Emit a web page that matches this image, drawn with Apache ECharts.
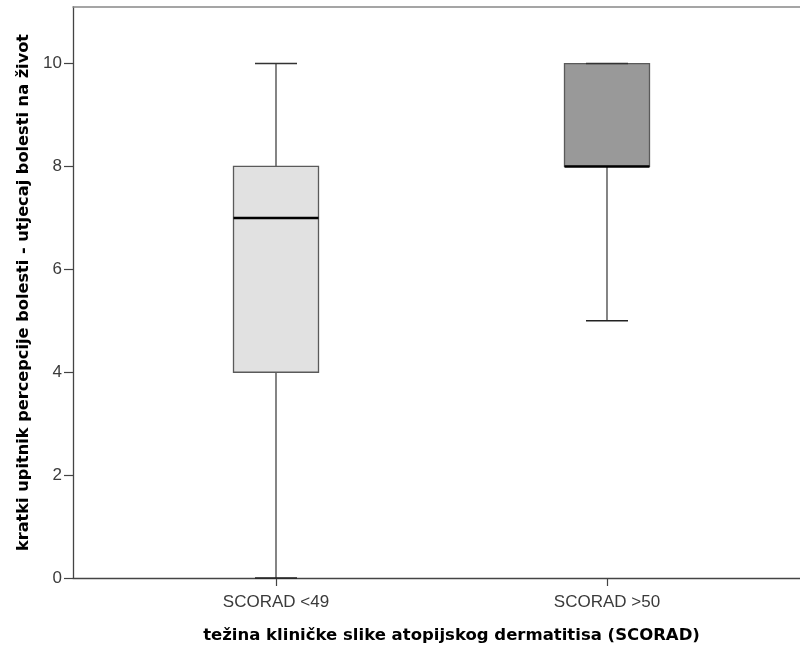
<!DOCTYPE html>
<html>
<head>
<meta charset="utf-8">
<script src="https://cdn.jsdelivr.net/npm/echarts@6/dist/echarts.min.js"></script>
<style>
html,body{margin:0;padding:0;background:#fff;}
#chart{width:800px;height:647px;}
</style>
</head>
<body>
<div id="chart"></div>
<script>
// Data
const categories = ['SCORAD <49', 'SCORAD >50'];
const whiskerLow = [0, 5];
const q1 = [4, 8];
const median = [7, 8];
const q3 = [8, 10];
const whiskerHigh = [10, 10];
const yTicks = [0, 2, 4, 6, 8, 10];
const boxFills = ['#e1e1e1', '#999999'];

const xTicks = categories.map((c, i) => i + 1);
const boxData = categories.map((c, i) => [i + 1, whiskerLow[i], q1[i], median[i], q3[i], whiskerHigh[i], i]);

const chart = echarts.init(document.getElementById('chart'), null, {renderer: 'canvas'});

function renderBox(params, api) {
  const x = api.value(0);
  const lo = api.coord([x, api.value(1)]);
  const b1 = api.coord([x, api.value(2)]);
  const md = api.coord([x, api.value(3)]);
  const b3 = api.coord([x, api.value(4)]);
  const hi = api.coord([x, api.value(5)]);
  const idx = api.value(6);
  const half = 42.5;
  const capHalf = 21;
  const cx = lo[0];
  const lineStyle = {stroke: '#333', lineWidth: 1.2};
  return {
    type: 'group',
    children: [
      {type: 'line', shape: {x1: cx, y1: lo[1], x2: cx, y2: b1[1]}, style: lineStyle},
      {type: 'line', shape: {x1: cx, y1: b3[1], x2: cx, y2: hi[1]}, style: lineStyle},
      {type: 'line', shape: {x1: cx - capHalf, y1: lo[1], x2: cx + capHalf, y2: lo[1]}, style: {stroke: '#222', lineWidth: 1.5}},
      {type: 'rect', shape: {x: cx - half, y: b3[1], width: half * 2, height: b1[1] - b3[1]},
        style: {fill: boxFills[idx], stroke: '#5a5a5a', lineWidth: 1.3}},
      {type: 'line', shape: {x1: cx - capHalf, y1: hi[1], x2: cx + capHalf, y2: hi[1]}, style: {stroke: '#333', lineWidth: 1.5}},
      {type: 'line', shape: {x1: cx - half, y1: md[1], x2: cx + half, y2: md[1]}, style: {stroke: '#000', lineWidth: 2.5}}
    ]
  };
}

const X_MIN = 0.3867, X_MAX = 2.5831;

const option = {
  animation: false,
  backgroundColor: '#fff',
  grid: {left: 73, top: 7, bottom: 69, right: 0, outerBoundsMode: 'none', containLabel: false},
  xAxis: [{
    type: 'value',
    min: X_MIN,
    max: X_MAX,
    name: 'težina kliničke slike atopijskog dermatitisa (SCORAD)',
    nameLocation: 'middle',
    nameGap: 49,
    nameTextStyle: {fontFamily: 'DejaVu Sans', fontWeight: 'bold', fontSize: 16.5, color: '#000', padding: [0, 0, 0, 30]},
    axisLine: {show: true, onZero: false, lineStyle: {color: '#444', width: 1.3}},
    axisTick: {show: true, length: 8, customValues: xTicks, lineStyle: {color: '#444', width: 1.2}},
    axisLabel: {
      customValues: xTicks,
      margin: 16,
      fontFamily: 'Liberation Sans, Arial, sans-serif',
      fontSize: 17,
      color: '#3a3a3a',
      formatter: v => categories[Math.round(v) - 1] || ''
    },
    splitLine: {show: false}
  }, {
    type: 'value',
    position: 'top',
    min: X_MIN,
    max: X_MAX,
    axisLine: {show: true, onZero: false, lineStyle: {color: '#888', width: 1.5}},
    axisTick: {show: false},
    axisLabel: {show: false},
    splitLine: {show: false}
  }],
  yAxis: {
    type: 'value',
    min: 0,
    max: 11.1,
    name: 'kratki upitnik percepcije bolesti - utjecaj bolesti na život',
    nameLocation: 'middle',
    nameGap: 41,
    nameTextStyle: {fontFamily: 'DejaVu Sans', fontWeight: 'bold', fontSize: 16.2, color: '#000'},
    axisLine: {show: true, lineStyle: {color: '#444', width: 1.3}},
    axisTick: {show: true, length: 9, customValues: yTicks, lineStyle: {color: '#444', width: 1.2}},
    axisLabel: {
      customValues: yTicks,
      margin: 11,
      fontFamily: 'Liberation Sans, Arial, sans-serif',
      fontSize: 17,
      color: '#3a3a3a'
    },
    splitLine: {show: false}
  },
  series: [{
    type: 'custom',
    renderItem: renderBox,
    encode: {x: 0, y: [1, 2, 3, 4, 5]},
    data: boxData,
    clip: false
  }]
};
chart.setOption(option);
</script>
</body>
</html>
